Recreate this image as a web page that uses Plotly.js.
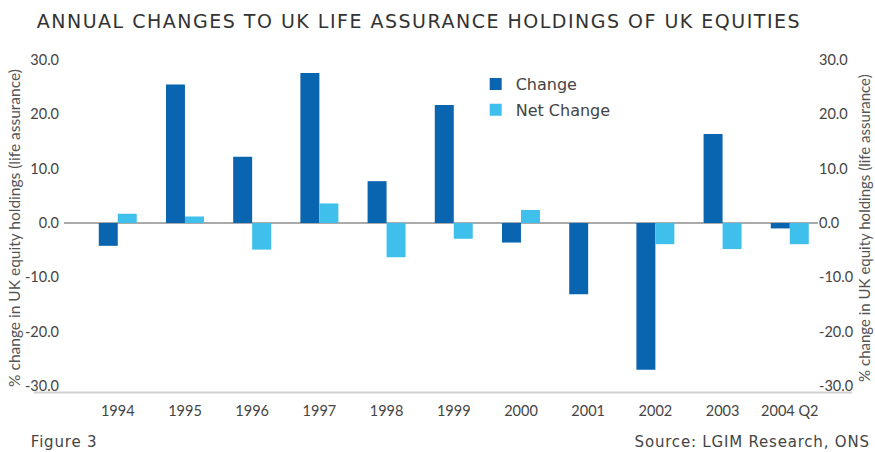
<!DOCTYPE html>
<html><head><meta charset="utf-8">
<script src="https://cdn.plot.ly/plotly-3.0.1.min.js"></script>
<style>html,body{margin:0;padding:0;background:#fff}#chart{width:875px;height:452px}</style>
</head><body><div id="chart"></div>
<script>
var categories = ["1994","1995","1996","1997","1998","1999","2000","2001","2002","2003","2004 Q2"];
var changeValues = [-4.2, 25.5, 12.2, 27.6, 7.7, 21.7, -3.6, -13.1, -27.0, 16.4, -1.0];
var netChangeValues = [1.7, 1.2, -4.9, 3.6, -6.3, -2.9, 2.4, 0, -3.9, -4.8, -3.9];
var yTicks = [-30, -20, -10, 0, 10, 20, 30];
var yTickLabels = ["-30.0", "-20.0", "-10.0", "0.0", "10.0", "20.0", "30.0"];

var font = "Lato, 'Open Sans', sans-serif";
var wideFont = "'DejaVu Sans', sans-serif";
var traces = [
  {type:'bar', name:'Change', legendgroup:'a', x:categories, y:changeValues, marker:{color:'#0a65b1'}, hoverinfo:'x+y'},
  {type:'bar', name:'Net Change', legendgroup:'b', x:categories, y:netChangeValues, marker:{color:'#3fc0ec'}, hoverinfo:'x+y'},
  {type:'scatter', mode:'markers', x:categories, y:categories.map(function(){return null;}), yaxis:'y2', showlegend:false, hoverinfo:'skip', marker:{opacity:0}}
];
var axisTitle = "% change in UK equity holdings (life assurance)";
var layout = {
  width:875, height:452,
  margin:{l:64, r:57, t:60, b:66},
  paper_bgcolor:'#fff', plot_bgcolor:'#fff',
  font:{family:font, color:'#444', size:14},
  barmode:'group', bargap:0.435, bargroupgap:0,
  showlegend:true,
  legend:{x:0.546, y:0.978, xanchor:'left', yanchor:'top', font:{family:wideFont, size:16, color:'#444'}, bgcolor:'rgba(0,0,0,0)', itemwidth:30, tracegroupgap:2},
  xaxis:{type:'category', range:[-0.8, 10.42], showline:false, showgrid:false, zeroline:false, ticks:'', tickfont:{size:14.5, color:'#444'}, ticklabelstandoff:14, fixedrange:true},
  yaxis:{range:[-30,30], tickvals:yTicks, ticktext:yTickLabels, showgrid:false, zeroline:true, zerolinecolor:'#aaaaaa', zerolinewidth:2, showline:false, ticks:'', tickfont:{size:14.5, color:'#444'}, ticklabelstandoff:4},
  yaxis2:{range:[-30,30], overlaying:'y', side:'right', tickvals:yTicks, ticktext:yTickLabels, showgrid:false, zeroline:false, showline:false, ticks:'', tickfont:{size:14.5, color:'#444'}},
  shapes:[
    {type:'line', xref:'paper', yref:'paper', x0:-0.04, x1:1.045, y0:-0.02, y1:-0.02, line:{color:'#d0d0d0', width:2}}
  ],
  annotations:[
    {text:"ANNUAL CHANGES TO UK LIFE ASSURANCE HOLDINGS OF UK EQUITIES", xref:'paper', yref:'paper', x:0.471, y:1.0, xanchor:'center', yanchor:'bottom', yshift:26, showarrow:false, font:{family:wideFont, size:19, color:'#333'}},
    {text:axisTitle, xref:'paper', yref:'paper', x:0, xshift:-50, y:0.485, xanchor:'center', yanchor:'middle', textangle:-90, showarrow:false, font:{size:15.5, color:'#555'}},
    {text:axisTitle, xref:'paper', yref:'paper', x:1, xshift:46, y:0.485, xanchor:'center', yanchor:'middle', textangle:-90, showarrow:false, font:{size:15, color:'#555'}},
    {text:"Figure 3", xref:'paper', yref:'paper', x:-0.043, y:0, yshift:-56, xanchor:'left', yanchor:'middle', showarrow:false, font:{family:wideFont, size:15, color:'#444'}},
    {text:"Source: LGIM Research, ONS", xref:'paper', yref:'paper', x:1.057, y:0, yshift:-56, xanchor:'right', yanchor:'middle', showarrow:false, font:{family:wideFont, size:15, color:'#444'}}
  ]
};
Plotly.newPlot('chart', traces, layout, {displayModeBar:false, staticPlot:true}).then(function(){
  var t = document.querySelectorAll('#chart .annotation-text');
  for (var i = 0; i < t.length; i++) {
    var s = t[i].textContent || '';
    if (s.indexOf('ANNUAL') === 0) { t[i].style.letterSpacing = '1.5px'; }
    if (s.indexOf('Source') === 0 || s.indexOf('Figure') === 0) { t[i].style.letterSpacing = '0.8px'; }
  }
});
</script></body></html>
